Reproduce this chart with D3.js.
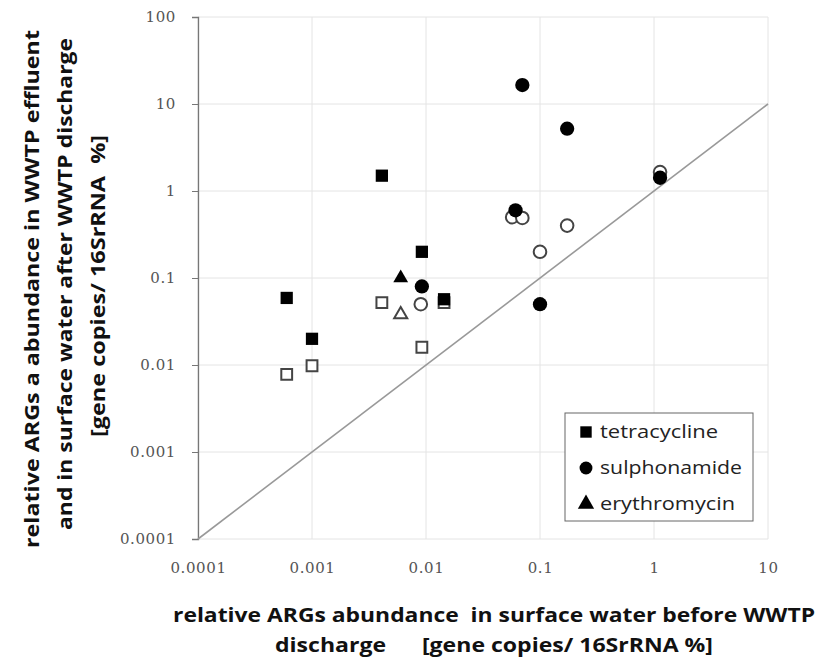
<!DOCTYPE html>
<html><head><meta charset="utf-8">
<script src="https://cdn.jsdelivr.net/npm/d3@7"></script>
<style>body{margin:0;background:#fff}svg{display:block}</style>
</head><body>
<svg id="c" width="830" height="666"></svg>
<script>
const categories = ["tetracycline", "sulphonamide", "erythromycin"];
const xTicks = [0.0001, 0.001, 0.01, 0.1, 1, 10];
const yTicks = [0.0001, 0.001, 0.01, 0.1, 1, 10, 100];
const xTickLabels = ["0.0001", "0.001", "0.01", "0.1", "1", "10"];
const yTickLabels = ["0.0001", "0.001", "0.01", "0.1", "1", "10", "100"];
// filled = effluent, open = surface water after discharge
const tetraFilledX = [0.0006, 0.001, 0.0041, 0.0092, 0.0144];
const tetraFilledY = [0.059, 0.02, 1.5, 0.2, 0.057];
const tetraOpenX = [0.0006, 0.001, 0.0041, 0.0092, 0.0144];
const tetraOpenY = [0.0078, 0.0098, 0.052, 0.016, 0.052];
const sulfFilledX = [0.07, 0.173, 0.061, 0.1, 0.0092, 1.13];
const sulfFilledY = [16.5, 5.2, 0.6, 0.05, 0.08, 1.42];
const sulfOpenX = [1.13, 0.057, 0.07, 0.1, 0.173, 0.009];
const sulfOpenY = [1.65, 0.5, 0.49, 0.2, 0.4, 0.05];
const eryFilledX = [0.006];
const eryFilledY = [0.1];
const eryOpenX = [0.006];
const eryOpenY = [0.038];

const svg = d3.select("#c");
const x = d3.scaleLog().domain([0.0001, 10]).range([198, 768]);
const y = d3.scaleLog().domain([0.0001, 100]).range([539, 17]);

// gridlines
const g = svg.append("g");
g.selectAll("line.gx").data(xTicks).join("line")
  .attr("x1", d => x(d)).attr("x2", d => x(d)).attr("y1", y(100)).attr("y2", y(0.0001))
  .attr("stroke", "#e4e4e4").attr("stroke-width", 1);
g.selectAll("line.gy").data(yTicks).join("line")
  .attr("x1", x(0.0001)).attr("x2", x(10)).attr("y1", d => y(d)).attr("y2", d => y(d))
  .attr("stroke", "#e4e4e4").attr("stroke-width", 1);

const tickFont = sel => sel.attr("font-family", "DejaVu Serif").attr("font-size", 15)
  .attr("letter-spacing", 0.6).attr("fill", "#555");

// y axis
const yAxis = d3.axisLeft(y).tickValues(yTicks).tickFormat((d, i) => yTickLabels[i]).tickSize(6).tickPadding(16);
const ya = svg.append("g").attr("transform", `translate(${x(0.0001)},0)`).call(yAxis);
ya.select(".domain").attr("stroke", "#777").attr("stroke-width", 1.3);
ya.selectAll(".tick line").attr("stroke", "#777");
ya.selectAll("text").call(tickFont);

// x axis (labels only)
const xAxis = d3.axisBottom(x).tickValues(xTicks).tickFormat((d, i) => xTickLabels[i]).tickSize(0).tickPadding(23);
const xa = svg.append("g").attr("transform", `translate(0,${y(0.0001)})`).call(xAxis);
xa.select(".domain").remove();
xa.selectAll("text").call(tickFont);

// 1:1 line
svg.append("line")
  .attr("x1", x(0.0001)).attr("y1", y(0.0001)).attr("x2", x(10)).attr("y2", y(10))
  .attr("stroke", "#999").attr("stroke-width", 1.6);

const symType = {tetracycline: d3.symbolSquare, sulphonamide: d3.symbolCircle, erythromycin: d3.symbolTriangle};
const symSize = {tetracycline: 150, sulphonamide: 160, erythromycin: 95};
function pts(xs, ys, cat, open) {
  const data = xs.map((v, i) => ({x: v, y: ys[i]}));
  svg.append("g").selectAll("path").data(data).join("path")
    .attr("transform", d => `translate(${x(d.x)},${y(d.y)})`)
    .attr("d", d3.symbol().type(symType[cat]).size(open ? symSize[cat] * 0.78 : symSize[cat]))
    .attr("fill", open ? "#fff" : "#000")
    .attr("stroke", open ? "#444" : "none")
    .attr("stroke-width", open ? 2 : 0);
}
pts(tetraOpenX, tetraOpenY, "tetracycline", true);
pts(sulfOpenX, sulfOpenY, "sulphonamide", true);
pts(eryOpenX, eryOpenY, "erythromycin", true);
pts(tetraFilledX, tetraFilledY, "tetracycline", false);
pts(sulfFilledX, sulfFilledY, "sulphonamide", false);
pts(eryFilledX, eryFilledY, "erythromycin", false);

// legend
const legLen = [118, 142, 135];
const lg = svg.append("g");
lg.append("rect").attr("x", 565).attr("y", 413).attr("width", 188).attr("height", 108)
  .attr("fill", "#fff").attr("stroke", "#666").attr("stroke-width", 1);
categories.forEach((c, i) => {
  const yy = 432 + i * 36;
  lg.append("path").attr("transform", `translate(586,${yy})`)
    .attr("d", d3.symbol().type(symType[c]).size(c === "erythromycin" ? 115 : 130)).attr("fill", "#000");
  lg.append("text").attr("x", 600).attr("y", yy + 6).text(c)
    .attr("font-family", "Open Sans").attr("font-size", 18.5).attr("fill", "#222")
    .attr("textLength", legLen[i]).attr("lengthAdjust", "spacingAndGlyphs");
});

// axis titles
const xt = ["relative ARGs abundance  in surface water before WWTP", "discharge      [gene copies/ 16SrRNA %]"];
const xtLen = [642, 438];
const xtY = [622, 652];
xt.forEach((t, i) => {
  svg.append("text").attr("x", 494).attr("y", xtY[i]).attr("text-anchor", "middle")
    .attr("font-family", "Open Sans").attr("font-weight", "bold").attr("font-size", 20)
    .attr("textLength", xtLen[i]).attr("lengthAdjust", "spacingAndGlyphs")
    .style("white-space", "pre").attr("fill", "#111").text(t);
});
const yt = ["relative ARGs a abundance in WWTP effluent", "and in surface water after WWTP discharge", "[gene copies/ 16SrRNA  %]"];
const ytLen = [518, 492, 302];
const ytX = [39, 72, 105];
const ytY = [289, 284, 286];
yt.forEach((t, i) => {
  svg.append("text").attr("transform", `translate(${ytX[i]},${ytY[i]}) rotate(-90)`).attr("text-anchor", "middle")
    .attr("font-family", "Open Sans").attr("font-weight", "bold").attr("font-size", 20)
    .attr("textLength", ytLen[i]).attr("lengthAdjust", "spacingAndGlyphs")
    .style("white-space", "pre").attr("fill", "#111").text(t);
});
</script>
</body></html>
